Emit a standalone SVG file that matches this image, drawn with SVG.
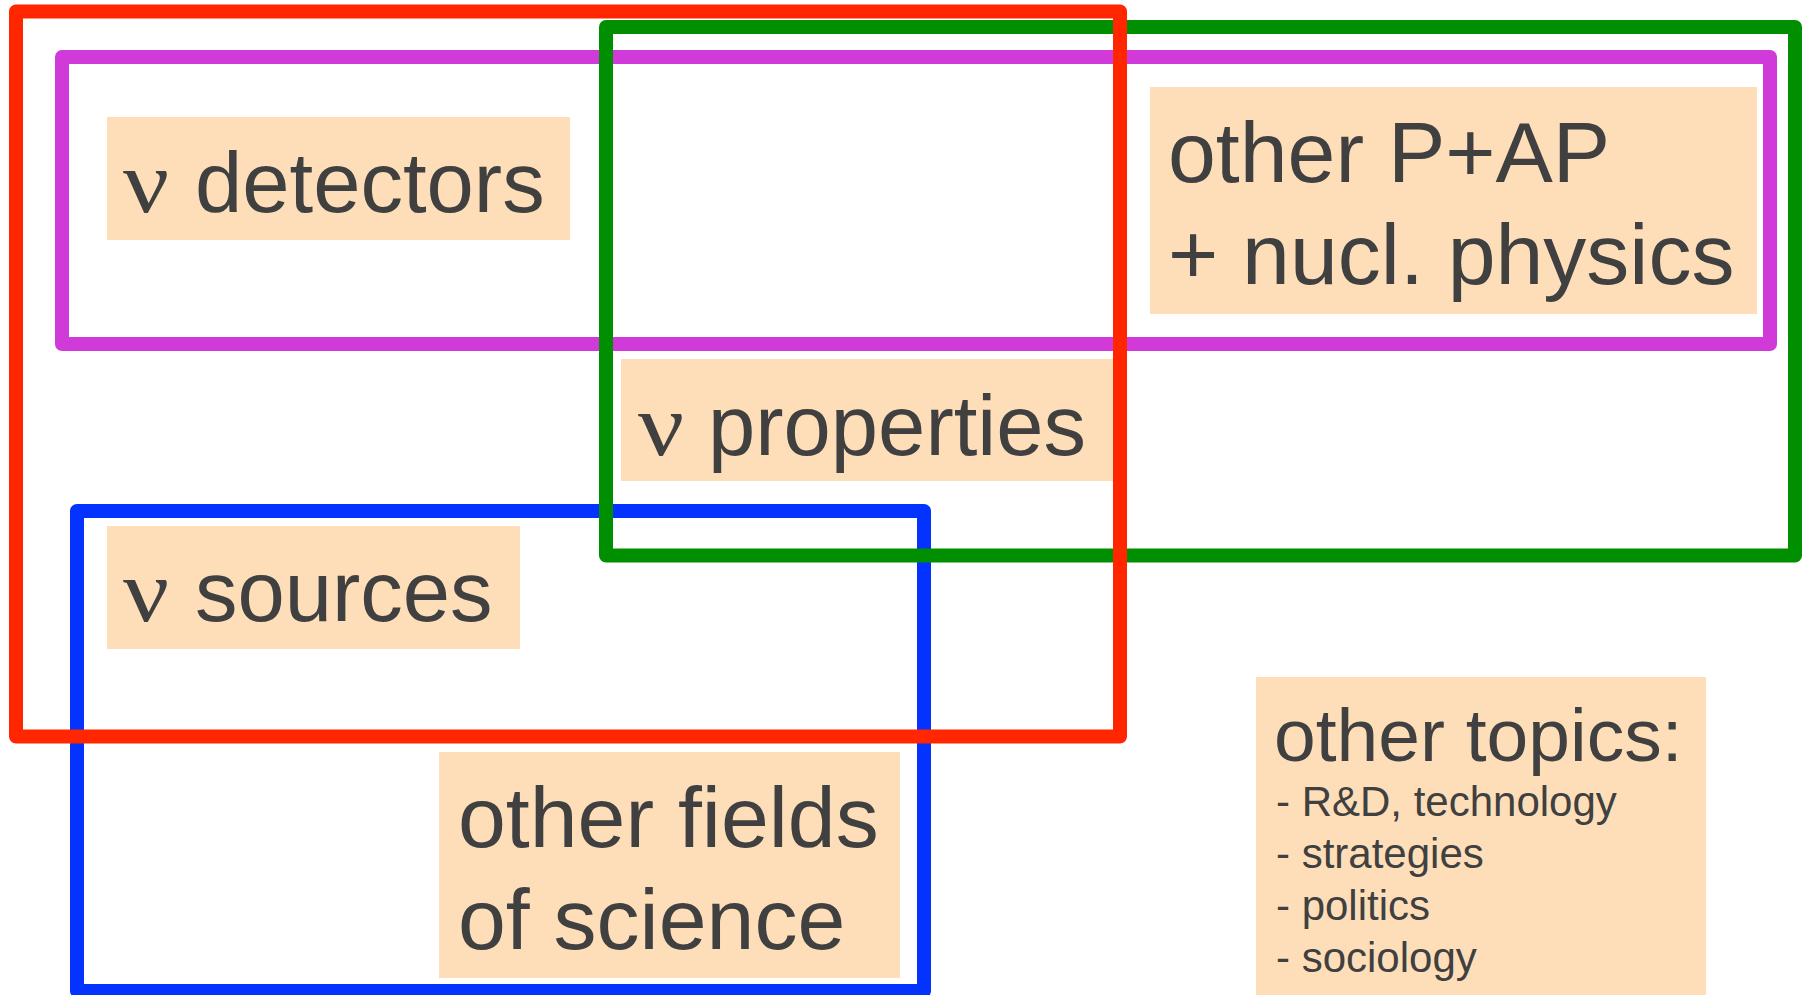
<svg xmlns="http://www.w3.org/2000/svg" width="1802" height="995" viewBox="0 0 1802 995">
  <defs>
    <style>
      .region { fill: none; stroke-width: 14; stroke-linejoin: round; }
      .box { fill: #fddeb9; }
      .lbl { font-family: "Liberation Sans", Arial, Helvetica, sans-serif; fill: #404040; font-size: 86px; }
      .word { font-size: 85px; }
      .nu { font-family: "Liberation Serif", "Times New Roman", serif; fill: #404040; font-size: 88px; }
      .hdr { font-size: 75px; }
      .item { font-size: 42px; }
    </style>
  </defs>
  <rect width="1802" height="995" fill="#ffffff"/>

  <!-- label boxes -->
  <g id="detectors">
    <rect class="box" x="107" y="117" width="463" height="123"/>
    <text class="nu" transform="translate(123 212) scale(1.16 1)">ν</text>
    <text class="lbl word" x="195" y="212">detectors</text>
  </g>
  <g id="properties">
    <rect class="box" x="621" y="359" width="492" height="122"/>
    <text class="nu" transform="translate(638 455) scale(1.16 1)">ν</text>
    <text class="lbl word" x="708" y="455">properties</text>
  </g>
  <g id="sources">
    <rect class="box" x="107" y="526" width="413" height="123"/>
    <text class="nu" transform="translate(123 621) scale(1.16 1)">ν</text>
    <text class="lbl word" x="195" y="621">sources</text>
  </g>
  <g id="other-pap">
    <rect class="box" x="1150" y="87" width="607" height="227"/>
    <text class="lbl" x="1168" y="182">other P+AP</text>
    <text class="lbl" x="1168" y="284">+ nucl. physics</text>
  </g>
  <g id="other-fields">
    <rect class="box" x="439" y="752" width="461" height="226"/>
    <text class="lbl" x="458" y="847">other fields</text>
    <text class="lbl" x="458" y="949">of science</text>
  </g>
  <g id="other-topics">
    <rect class="box" x="1256" y="677" width="450" height="318"/>
    <text class="lbl hdr" x="1274" y="761">other topics:</text>
    <text class="lbl item" x="1276" y="816">- R&amp;D, technology</text>
    <text class="lbl item" x="1276" y="868">- strategies</text>
    <text class="lbl item" x="1276" y="920">- politics</text>
    <text class="lbl item" x="1276" y="972">- sociology</text>
  </g>

  <!-- overlapping region outlines -->
  <g id="regions">
    <rect id="region-detectors" class="region" stroke="#d03ad8" x="62" y="57" width="1708" height="287"/>
    <rect id="region-sources" class="region" stroke="#0433ff" x="77" y="511" width="847" height="480"/>
    <rect id="region-properties" class="region" stroke="#008f00" x="606" y="27" width="1189" height="528.5"/>
    <rect id="region-neutrino" class="region" stroke="#ff2600" x="16" y="11.5" width="1104" height="725"/>
  </g>
</svg>
